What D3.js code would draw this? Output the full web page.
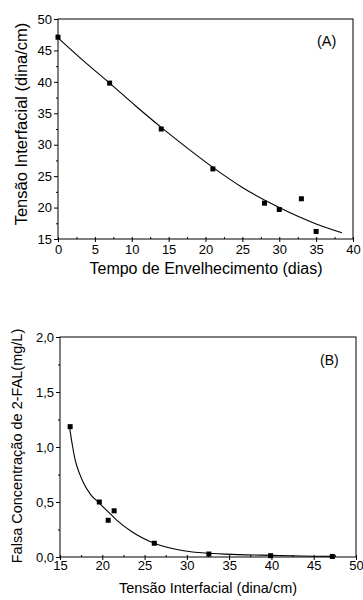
<!DOCTYPE html>
<html>
<head>
<meta charset="utf-8">
<script src="https://cdn.jsdelivr.net/npm/d3@7"></script>
<style>
  body { margin: 0; background: #fff; }
  svg { display: block; font-family: "Liberation Sans", Arial, sans-serif; }
</style>
</head>
<body>
<svg id="chart" width="363" height="600"></svg>
<script>
// Panel A: interfacial tension vs ageing time
const agingDays = [0, 7, 14, 21, 28, 30, 33, 35]
const tensionA = [47.1, 39.8, 32.5, 26.15, 20.7, 19.7, 21.4, 16.2]
// fitted curve
const fitADays = [0, 3.5, 7, 10.5, 14, 17.5, 21, 25, 30, 35, 38.5]
const fitATension = [47.0, 43.3, 39.8, 36.2, 32.75, 29.5, 26.4, 23.2, 20.0, 17.4, 16.0]

// Panel B: false 2-FAL concentration vs interfacial tension
const tensionB = [16.2, 19.65, 20.7, 21.4, 26.15, 32.6, 39.9, 47.2]
const falConc = [1.185, 0.50, 0.334, 0.42, 0.125, 0.027, 0.012, 0.005]
const fitBTension = [16.15, 16.5, 16.8, 17.3, 17.8, 18.6, 19.65, 20.7, 21.7, 23.5, 26.15, 29.6, 32.5, 36, 39.8, 43.5, 47.3]
const fitBConc = [1.17, 1.0, 0.88, 0.76, 0.67, 0.57, 0.49, 0.41, 0.336, 0.23, 0.125, 0.057, 0.034, 0.022, 0.015, 0.009, 0.006]

const svg = d3.select('#chart')

function drawPanel(opts) {
  const { left, right, top, bottom } = opts
  const x = d3.scaleLinear().domain(opts.xDomain).range([left, right])
  const y = d3.scaleLinear().domain(opts.yDomain).range([bottom, top])
  const g = svg.append('g')

  // minor ticks (x inward, y outward)
  g.append('g')
    .attr('transform', `translate(0,${bottom})`)
    .call(d3.axisBottom(x).tickValues(opts.xMinor).tickSize(-2).tickFormat(''))
    .call(a => a.select('.domain').remove())
  g.append('g')
    .attr('transform', `translate(${left},0)`)
    .call(d3.axisLeft(y).tickValues(opts.yMinor).tickSize(2).tickFormat(''))
    .call(a => a.select('.domain').remove())

  // inner half of major x ticks
  g.append('g')
    .attr('transform', `translate(0,${bottom})`)
    .call(d3.axisBottom(x).tickValues(opts.xTicks).tickSize(-2).tickFormat(''))
    .call(a => a.select('.domain').remove())

  // major ticks + labels
  const xAxis = g.append('g')
    .attr('transform', `translate(0,${bottom})`)
    .call(d3.axisBottom(x).tickValues(opts.xTicks).tickSize(3).tickPadding(opts.xPad).tickFormat(opts.fmt.x))
  xAxis.select('.domain').remove()
  xAxis.selectAll('text').attr('font-size', opts.tickFont).attr('fill', '#000').attr('font-family', null)

  const yAxis = g.append('g')
    .attr('transform', `translate(${left},0)`)
    .call(d3.axisLeft(y).tickValues(opts.yTicks).tickSize(4).tickPadding(2).tickFormat(opts.fmt.y))
  yAxis.select('.domain').remove()
  yAxis.selectAll('text').attr('font-size', opts.tickFont).attr('fill', '#000').attr('font-family', null)

  g.selectAll('.tick line').attr('stroke', '#000')

  // frame
  g.append('rect')
    .attr('x', left).attr('y', top)
    .attr('width', right - left).attr('height', bottom - top)
    .attr('fill', 'none').attr('stroke', '#000').attr('stroke-width', 1)

  // fit line
  const line = d3.line()
    .x(d => x(d[0]))
    .y(d => y(d[1]))
    .curve(d3.curveMonotoneX)
  g.append('path')
    .datum(opts.fitX.map((v, i) => [v, opts.fitY[i]]))
    .attr('d', line)
    .attr('fill', 'none')
    .attr('stroke', '#000')
    .attr('stroke-width', 1.1)

  // markers
  g.selectAll('rect.pt')
    .data(opts.ptX.map((v, i) => [v, opts.ptY[i]]))
    .join('rect')
    .attr('class', 'pt')
    .attr('x', d => x(d[0]) - 2.5)
    .attr('y', d => y(d[1]) - 2.5)
    .attr('width', 5).attr('height', 5)
    .attr('fill', '#000')

  // panel label
  g.append('text')
    .attr('x', opts.tag.x).attr('y', opts.tag.y)
    .attr('font-size', opts.tag.size)
    .text(opts.tag.text)

  // axis titles
  g.append('text')
    .attr('x', opts.xTitle.x).attr('y', opts.xTitle.y)
    .attr('text-anchor', 'middle')
    .attr('font-size', opts.xTitle.size)
    .text(opts.xTitle.text)
  g.append('text')
    .attr('transform', `translate(${opts.yTitle.x},${opts.yTitle.y}) rotate(-90)`)
    .attr('text-anchor', 'middle')
    .attr('font-size', opts.yTitle.size)
    .text(opts.yTitle.text)
}

const comma = d3.format('.1f')

drawPanel({
  left: 58, right: 353, top: 19, bottom: 239,
  xDomain: [0, 40], yDomain: [15, 50],
  xTicks: d3.range(0, 41, 5), xMinor: d3.range(2.5, 40, 5),
  yTicks: d3.range(15, 51, 5), yMinor: d3.range(17.5, 50, 5),
  xPad: 3, tickFont: 13,
  fmt: { x: d3.format('d'), y: d3.format('d') },
  fitX: fitADays, fitY: fitATension,
  ptX: agingDays, ptY: tensionA,
  tag: { x: 317, y: 46, size: 14.5, text: '(A)' },
  xTitle: { x: 206, y: 274, size: 16, text: 'Tempo de Envelhecimento (dias)' },
  yTitle: { x: 27, y: 124, size: 16.5, text: 'Tensão Interfacial (dina/cm)' }
})

drawPanel({
  left: 60, right: 356, top: 337, bottom: 557,
  xDomain: [15, 50], yDomain: [0, 2],
  xTicks: d3.range(15, 51, 5), xMinor: d3.range(17.5, 50, 5),
  yTicks: [0, 0.5, 1, 1.5, 2], yMinor: [0.25, 0.75, 1.25, 1.75],
  xPad: 1, tickFont: 13,
  fmt: { x: d3.format('d'), y: v => comma(v).replace('.', ',') },
  fitX: fitBTension, fitY: fitBConc,
  ptX: tensionB, ptY: falConc,
  tag: { x: 320, y: 365, size: 14, text: '(B)' },
  xTitle: { x: 208, y: 593, size: 14.5, text: 'Tensão Interfacial (dina/cm)' },
  yTitle: { x: 22, y: 446, size: 14.5, text: 'Falsa Concentração de 2-FAL(mg/L)' }
})
</script>
</body>
</html>
